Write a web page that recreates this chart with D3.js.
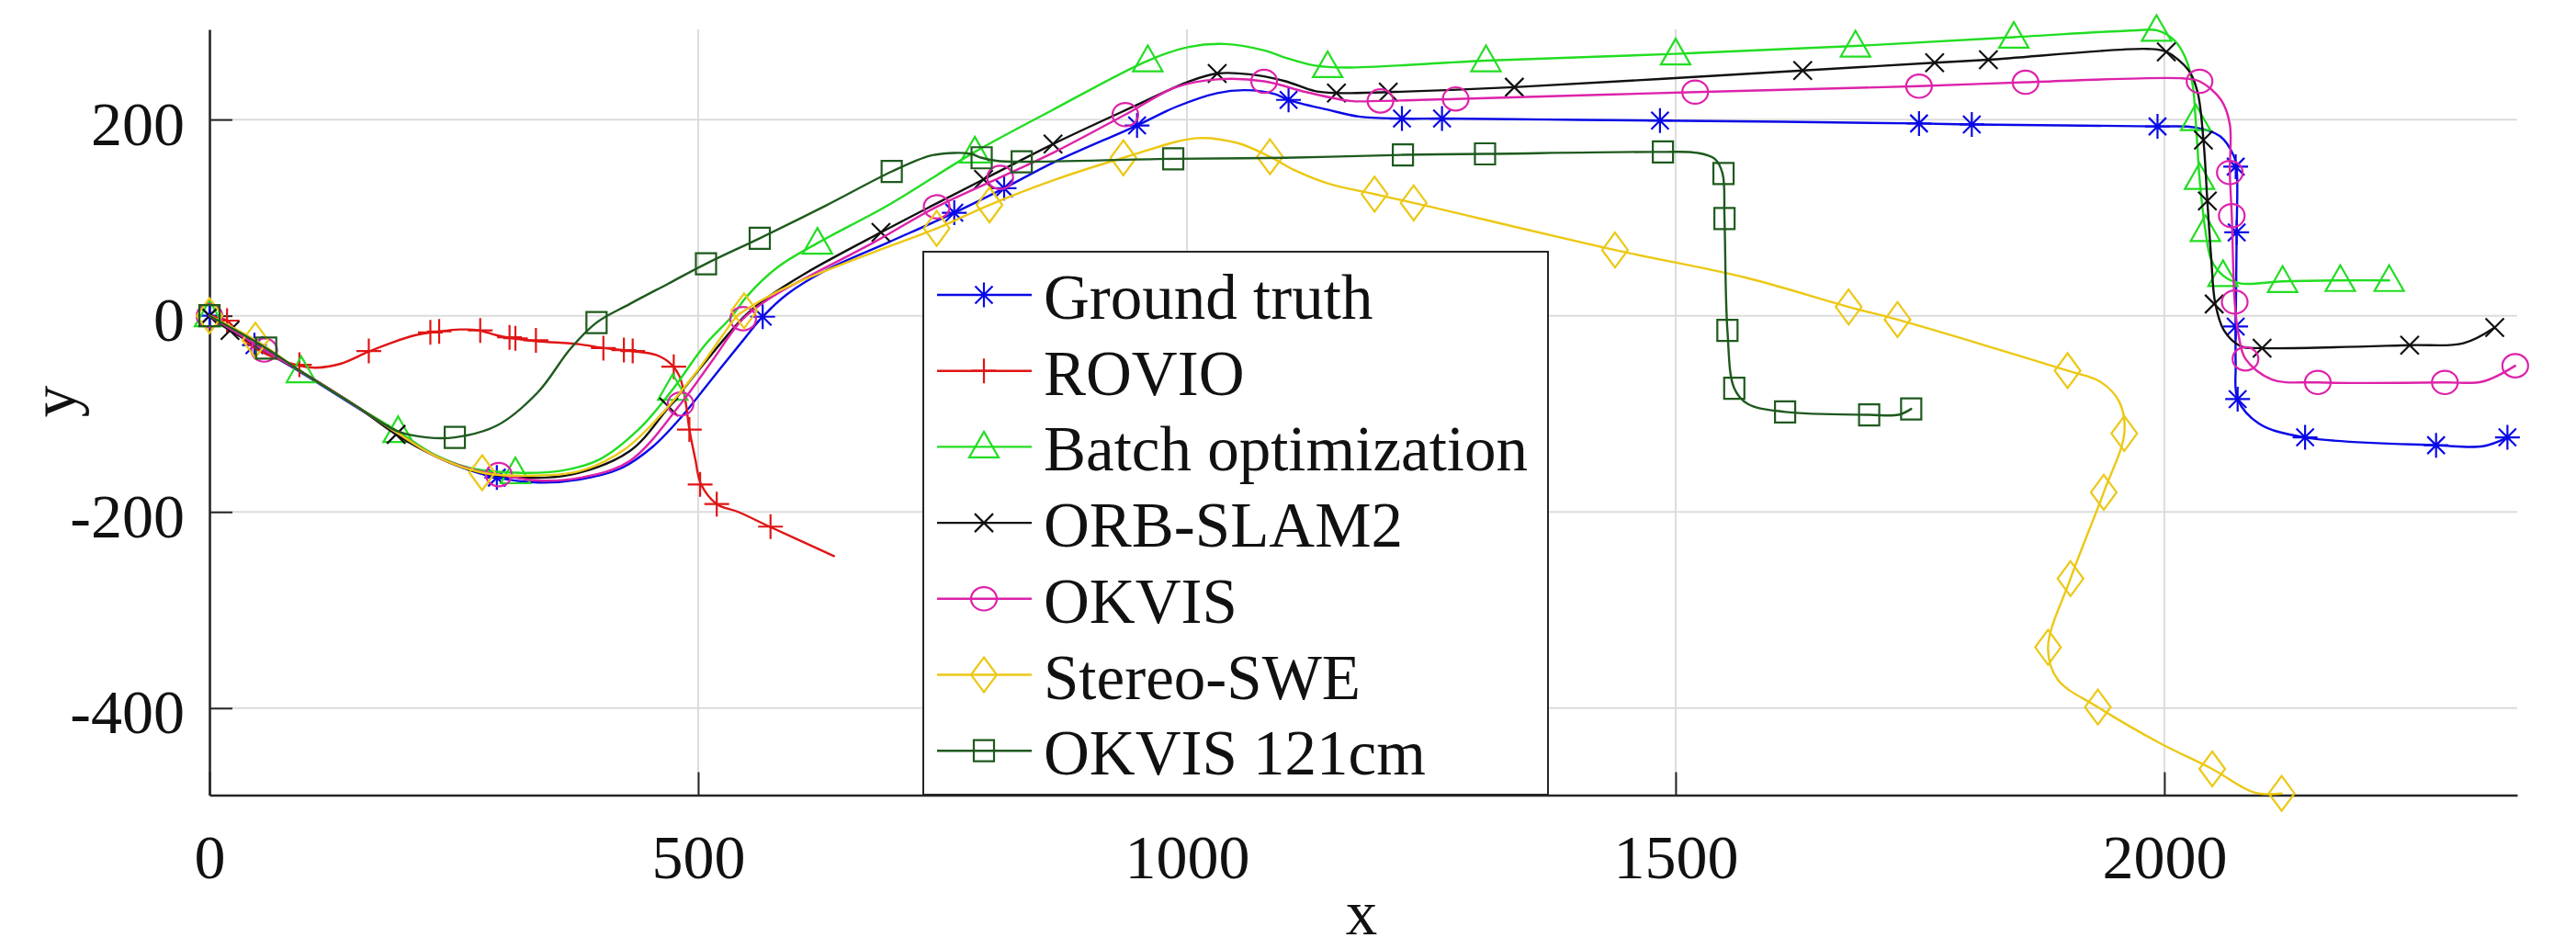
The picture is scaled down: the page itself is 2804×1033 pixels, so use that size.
<!DOCTYPE html>
<html>
<head>
<meta charset="utf-8">
<script src="https://cdn.jsdelivr.net/npm/d3@7"></script>
<style>
  body { margin: 0; background: #ffffff; }
  svg { display: block; }
</style>
</head>
<body>
<svg id="chart" width="2804" height="1033"></svg>
<script>
// ---------------- DATA ----------------
const xTickValues = [0, 500, 1000, 1500, 2000];
const xTickLabels = ["0", "500", "1000", "1500", "2000"];
const yTickValues = [-400, -200, 0, 200];
const yTickLabels = ["-400", "-200", "0", "200"];

const seriesNames = ["Ground truth", "ROVIO", "Batch optimization", "ORB-SLAM2", "OKVIS", "Stereo-SWE", "OKVIS 121cm"];

const groundTruthPath = [[0,0],[46,-30],[94,-58],[150,-93],[193,-120],[231,-143],[265,-157],[294,-165],[336,-170],[378,-167],[420,-156],[453,-134],[483,-103],[516,-62],[546,-25],[566,-1],[591,22],[632,47],[695,75],[762,105],[813,130],[863,156],[949,194],[989,213],[1031,227],[1060,230],[1090,226],[1104,220],[1144,210],[1176,203],[1220,201],[1261,201],[1369,200],[1484,199],[1749,196],[1803,195],[1993,193],[2031,192],[2057,183],[2071,163],[2074,150],[2074,85],[2073,-11],[2073,-50],[2075,-85],[2097,-110],[2144,-124],[2278,-132],[2326,-133],[2351,-124]];
const groundTruthMarks = [[0,0],[46,-30],[294,-165],[566,-1],[762,105],[813,130],[949,194],[1104,220],[1220,201],[1261,201],[1484,199],[1749,196],[1803,195],[1993,193],[2073,152],[2074,85],[2073,-11],[2075,-85],[2144,-124],[2278,-132],[2351,-124]];

const rovioPath = [[0,0],[18,-5],[28,-16],[42,-30],[67,-43],[92,-51],[109,-53],[134,-49],[162,-37],[185,-28],[210,-20],[235,-16],[256,-14],[276,-15],[294,-20],[310,-23],[336,-26],[378,-29],[403,-33],[432,-36],[457,-40],[472,-49],[481,-62],[487,-87],[491,-116],[497,-146],[503,-172],[519,-192],[541,-200],[573,-215],[639,-245]];
const rovioMarks = [[18,-5],[92,-50],[163,-36],[226,-17],[235,-16],[277,-15],[307,-22],[313,-23],[334,-25],[403,-33],[424,-35],[433,-36],[475,-52],[491,-116],[502,-172],[519,-192],[574,-215]];

const batchPath = [[0,0],[46,-29],[94,-57],[150,-92],[193,-118],[231,-142],[270,-156],[313,-160],[360,-158],[400,-146],[440,-115],[474,-75],[506,-31],[535,0],[550,20],[582,50],[622,74],[695,113],[783,167],[863,210],[960,260],[1002,274],[1039,277],[1081,270],[1101,263],[1131,255],[1162,253],[1306,260],[1500,267],[1684,275],[1846,284],[1972,291],[1992,291],[2010,281],[2022,262],[2029,235],[2032,200],[2034,170],[2036,140],[2039,110],[2042,87],[2048,57],[2060,41],[2077,33],[2121,35],[2180,36],[2230,36]];
const batchMarks = [[0,0],[94,-57],[193,-118],[313,-160],[474,-75],[622,74],[783,167],[960,260],[1144,254],[1306,260],[1500,267],[1684,275],[1846,284],[1992,291],[2032,200],[2036,140],[2042,87],[2060,41],[2121,35],[2180,36],[2230,36]];

const orbPath = [[0,0],[21,-15],[46,-29],[94,-57],[150,-92],[191,-121],[231,-143],[273,-159],[319,-165],[370,-162],[430,-138],[470,-93],[500,-56],[529,-21],[548,0],[570,18],[611,44],[687,85],[737,111],[792,139],[863,175],[947,214],[1000,238],[1031,247],[1073,245],[1101,239],[1131,229],[1153,227],[1206,228],[1335,233],[1630,250],[1765,258],[1820,261],[1983,272],[2002,269],[2025,250],[2034,228],[2040,179],[2044,117],[2048,58],[2052,13],[2061,-15],[2078,-31],[2100,-33],[2251,-30],[2306,-28],[2338,-12]];
const orbMarks = [[0,0],[21,-15],[191,-121],[470,-93],[687,85],[792,139],[863,175],[1031,247],[1153,227],[1206,228],[1335,233],[1630,250],[1765,258],[1820,261],[2002,269],[2040,179],[2044,117],[2051,12],[2100,-33],[2251,-30],[2338,-12]];

const okvisPath = [[0,0],[56,-35],[94,-57],[150,-92],[193,-120],[231,-143],[270,-157],[296,-162],[336,-168],[380,-165],[430,-148],[482,-90],[515,-45],[546,-3],[580,22],[611,39],[680,75],[744,111],[809,141],[863,166],[937,205],[989,233],[1031,241],[1079,239],[1122,228],[1167,219],[1198,219],[1275,221],[1520,228],[1749,234],[1858,238],[2019,242],[2036,239],[2058,220],[2067,195],[2067,146],[2069,102],[2072,14],[2076,-20],[2083,-44],[2110,-65],[2157,-68],[2287,-68],[2326,-67],[2359,-51]];
const okvisMarks = [[0,0],[56,-35],[296,-162],[482,-90],[546,-3],[744,111],[809,141],[937,205],[1079,239],[1198,219],[1275,221],[1520,228],[1749,234],[1858,238],[2036,239],[2067,146],[2069,102],[2072,14],[2083,-44],[2157,-68],[2287,-68],[2359,-51]];

const stereoPath = [[0,0],[47,-25],[94,-57],[150,-92],[193,-120],[231,-143],[279,-160],[330,-163],[380,-158],[425,-136],[460,-103],[500,-55],[525,-20],[540,0],[547,5],[580,24],[611,38],[680,65],[744,89],[798,113],[863,138],[935,161],[1010,181],[1052,176],[1085,162],[1111,148],[1144,135],[1192,124],[1232,115],[1438,67],[1571,39],[1677,9],[1727,-4],[1901,-56],[1934,-67],[1954,-88],[1959,-120],[1938,-180],[1904,-268],[1881,-338],[1891,-371],[1932,-399],[1996,-436],[2049,-462],[2092,-486],[2120,-487]];
const stereoMarks = [[0,0],[47,-25],[279,-160],[547,5],[744,89],[798,113],[935,161],[1085,162],[1192,124],[1232,115],[1438,67],[1677,9],[1727,-4],[1901,-56],[1959,-120],[1938,-180],[1904,-268],[1881,-338],[1932,-399],[2049,-462],[2120,-487]];

const okvis121Path = [[0,0],[58,-33],[94,-57],[150,-92],[193,-118],[222,-124],[251,-124],[294,-112],[336,-78],[369,-34],[396,-7],[430,12],[470,33],[508,53],[563,79],[630,112],[698,147],[737,163],[762,166],[779,165],[790,161],[805,158],[831,157],[986,160],[1101,161],[1221,164],[1305,165],[1487,167],[1522,166],[1540,160],[1548,145],[1550,99],[1553,-15],[1560,-74],[1574,-90],[1612,-98],[1698,-101],[1728,-101],[1741,-95]];
const okvis121Marks = [[0,0],[58,-33],[251,-124],[396,-7],[508,53],[563,79],[698,147],[790,161],[831,157],[986,160],[1221,164],[1305,165],[1487,167],[1549,145],[1550,99],[1553,-15],[1560,-74],[1612,-98],[1698,-101],[1741,-95]];

// ---------------- STYLE ----------------
const seriesColors = ["#0a0ae6", "#e01515", "#22dd22", "#111111", "#dd22aa", "#ecc815", "#1e5a1e"];
const seriesMarkers = ["asterisk", "plus", "triangle", "cross", "circle", "diamond", "square"];
const FONT = "'Liberation Serif', 'Times New Roman', Times, serif";
const axisColor = "#262626";
const gridColor = "#dcdcdc";

const markerPath = {
  asterisk: "M0,-13.5V13.5M-13.5,0H13.5M-9.5,-9.5L9.5,9.5M-9.5,9.5L9.5,-9.5",
  plus: "M0,-13.5V13.5M-13.5,0H13.5",
  cross: "M-10,-10L10,10M-10,10L10,-10",
  circle: "M-14,0A14,12.7 0 1,0 14,0A14,12.7 0 1,0 -14,0Z",
  triangle: "M0,-16.5L16,11.5L-16,11.5Z",
  diamond: "M0,-19L14,0L0,19L-14,0Z",
  square: "M-11,-11.5H11V11.5H-11Z"
};

const series = [
  {name: seriesNames[0], path: groundTruthPath, marks: groundTruthMarks},
  {name: seriesNames[1], path: rovioPath, marks: rovioMarks},
  {name: seriesNames[2], path: batchPath, marks: batchMarks},
  {name: seriesNames[3], path: orbPath, marks: orbMarks},
  {name: seriesNames[4], path: okvisPath, marks: okvisMarks},
  {name: seriesNames[5], path: stereoPath, marks: stereoMarks},
  {name: seriesNames[6], path: okvis121Path, marks: okvis121Marks}
].map((s, i) => ({...s, color: seriesColors[i], marker: seriesMarkers[i]}));

// ---------------- CHART ----------------
const svg = d3.select("#chart");
const x = d3.scaleLinear().domain([0, 2361]).range([228, 2740]);
const y = d3.scaleLinear().domain([-488.7, 291.9]).range([865.5, 32]);

// grid
const grid = svg.append("g");
grid.selectAll("line.gx").data(xTickValues.filter(d => d > 0)).join("line")
  .attr("class", "gx")
  .attr("x1", d => x(d)).attr("x2", d => x(d))
  .attr("y1", y.range()[1]).attr("y2", y.range()[0])
  .attr("stroke", gridColor).attr("stroke-width", 2);
grid.selectAll("line.gy").data(yTickValues).join("line")
  .attr("class", "gy")
  .attr("x1", x.range()[0]).attr("x2", x.range()[1])
  .attr("y1", d => y(d)).attr("y2", d => y(d))
  .attr("stroke", gridColor).attr("stroke-width", 2);

// axes
const xAxis = d3.axisBottom(x).tickValues(xTickValues)
  .tickFormat((d, i) => xTickLabels[i]).tickSizeInner(-25).tickSizeOuter(0).tickPadding(42);
const gx = svg.append("g").attr("transform", `translate(0,${y.range()[0]})`).call(xAxis);
const yAxis = d3.axisLeft(y).tickValues(yTickValues)
  .tickFormat((d, i) => yTickLabels[i]).tickSizeInner(-25).tickSizeOuter(0).tickPadding(27);
const gy = svg.append("g").attr("transform", `translate(${x.range()[0]},0)`).call(yAxis);

[gx, gy].forEach(g => {
  g.attr("font-family", FONT).attr("font-size", 68);
  g.select(".domain").attr("stroke", axisColor).attr("stroke-width", 2.6);
  g.selectAll(".tick line").attr("stroke", axisColor).attr("stroke-width", 2);
  g.selectAll(".tick text").attr("fill", "#111");
});
gy.selectAll(".tick text").attr("dy", "0.4em");

// axis labels
svg.append("text").attr("x", (x.range()[0] + x.range()[1]) / 2 - 2).attr("y", 1017)
  .attr("text-anchor", "middle").attr("font-family", FONT).attr("font-size", 69).attr("fill", "#111").text("x");
svg.append("text").attr("transform", "translate(82,437) rotate(-90)")
  .attr("text-anchor", "middle").attr("font-family", FONT).attr("font-size", 69).attr("fill", "#111").text("y");

// series
const line = d3.line().x(d => x(d[0])).y(d => y(d[1])).curve(d3.curveCatmullRom.alpha(0.5));
series.forEach(s => {
  const g = svg.append("g");
  g.append("path").attr("d", line(s.path))
    .attr("fill", "none").attr("stroke", s.color).attr("stroke-width", 2.4)
    .attr("stroke-linejoin", "round").attr("stroke-linecap", "round");
  g.selectAll("path.mk").data(s.marks).join("path")
    .attr("class", "mk")
    .attr("transform", d => `translate(${x(d[0])},${y(d[1])})`)
    .attr("d", markerPath[s.marker])
    .attr("fill", "none").attr("stroke", s.color).attr("stroke-width", 2.2);
});

// legend
const lg = svg.append("g");
lg.append("rect").attr("x", 1005).attr("y", 274).attr("width", 680).attr("height", 591)
  .attr("fill", "#ffffff").attr("stroke", axisColor).attr("stroke-width", 2);
series.forEach((s, i) => {
  const cy = 321 + i * 82.7;
  lg.append("line").attr("x1", 1020).attr("x2", 1123).attr("y1", cy).attr("y2", cy)
    .attr("stroke", s.color).attr("stroke-width", 2.4);
  lg.append("path").attr("transform", `translate(1071,${cy})`).attr("d", markerPath[s.marker])
    .attr("fill", "none").attr("stroke", s.color).attr("stroke-width", 2.2);
  lg.append("text").attr("x", 1136).attr("y", cy + 26)
    .attr("font-family", FONT).attr("font-size", 69).attr("fill", "#111").text(s.name);
});
</script>
</body>
</html>
